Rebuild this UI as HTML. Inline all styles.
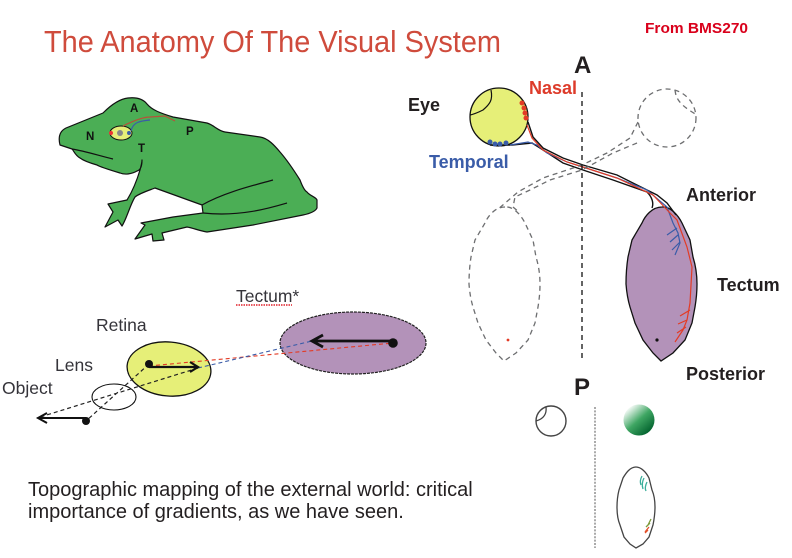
<!DOCTYPE html>
<html><head><meta charset="utf-8"><style>
html,body{margin:0;padding:0;background:#fff}
svg{display:block}
text{font-family:"Liberation Sans",Arial,sans-serif}
.b{font-weight:bold;fill:#231f20;font-size:18px}
.r{fill:#35343a;font-size:17.500px}
</style></head><body>
<svg width="792" height="558" viewBox="0 0 792 558" xmlns="http://www.w3.org/2000/svg">
<defs><linearGradient id="g" x1="0.15" y1="0.1" x2="0.85" y2="0.9"><stop offset="0" stop-color="#fff"/><stop offset=".5" stop-color="#3fa663"/><stop offset="1" stop-color="#00602c"/></linearGradient></defs>
<rect width="792" height="558" fill="#fff"/>
<text x="44" y="52" font-size="31" fill="#cf4b3c" textLength="457" lengthAdjust="spacingAndGlyphs">The Anatomy Of The Visual System</text>
<text x="645" y="33" font-size="15" font-weight="bold" fill="#d9001b" textLength="103" lengthAdjust="spacingAndGlyphs">From BMS270</text>

<!-- frog -->
<path d="M60 145 C58 137 60 131 66 128 L103 113 C108 108 118 99 128 98 C137 97 143 99 147 104 C152 110 160 113 173 117 L207 123 C214 125 218 131 225 132 L260 137 C268 138 275 146 280 152 C287 160 295 172 300 180 C303 188 305 191 307 192 C310 196 316 197 317 200 L317 208 C315 212 308 214 303 215 L253 225 L207 232 C200 231 193 228 187 227 L162 233 L164 240 L153 241 L152 234 L135 239 L145 225 L141 223 L173 217 L203 213 L202 205 L155 188 C150 190 140 193 135 197 C130 205 127 218 122 226 L118 220 L105 227 L113 212 L108 204 L127 200 C132 192 137 180 140 170 C141 166 142 163 142 160 C142 165 141 170 137 171 C132 174 125 175 120 173 C110 170 100 167 97 165 C90 163 84 161 80 158 C75 155 74 151 72 149 L60 145 Z" fill="#4bae55" stroke="#111" stroke-width="1.200" stroke-linejoin="round"/>
<path d="M72 149 C85 151 100 156 113 159 M202 205 C225 192 255 185 273 180 M203 213 C240 217 270 208 287 203" fill="none" stroke="#111" stroke-width="1.200"/>
<ellipse cx="121" cy="133" rx="11" ry="7" fill="#e6ef78" stroke="#111"/>
<circle cx="120" cy="133" r="3" fill="#888"/><circle cx="111" cy="133" r="2" fill="#e33"/><circle cx="129" cy="133" r="2" fill="#3a5ca8"/>
<path d="M123 126 C135 120 145 117 150 117 L165 116 L175 121" fill="none" stroke="#b5533a" stroke-width="1.200"/>
<path d="M131 131 C133 122 140 121 150 120" fill="none" stroke="#3a5ca8" stroke-width="1.200"/>
<g font-size="11.500" font-weight="bold" fill="#111"><text x="86" y="140">N</text><text x="130" y="112">A</text><text x="186" y="135">P</text><text x="138" y="152">T</text></g>

<!-- tectum -->
<path d="M662 207 C652 207 645 216 642 223 L632 240 L628 257 Q626 270 626 284 Q627 297 630 307 L635 323 L643 340 L653 353 L661 361 L673 353 L685 340 L692 323 L695 307 Q697 295 697 284 Q697 270 693 257 L690 240 L682 223 C678 215 670 206 662 207 Z" fill="#b392b9" stroke="#111" stroke-width="1.300"/>
<!-- eye -->
<circle cx="499" cy="117" r="29" fill="#e6ef78" stroke="#111" stroke-width="1.300"/>
<path d="M491 90 C493 100 490 104 483 110 C479 112 475 114 470 115" fill="none" stroke="#111" stroke-width="1.200"/>
<!-- nerve -->
<path d="M528 122 L533 137 L543 148 L563 158 L583 165 L617 175 L657 195 L667 203 L676 215" fill="none" stroke="#111" stroke-width="1.400"/>
<path d="M490 145 L512 145 L532 143 L540 148 L563 163 L583 170 L613 180 L647 192 C652 197 654 203 652 208" fill="none" stroke="#111" stroke-width="1.400"/>
<path d="M510 145 L528 142 L537 145 L547 153 L567 162 L617 178 L647 190 L667 207 L673 223 L678 233 L680 243 L675 255" fill="none" stroke="#3a5ca8" stroke-width="1.200"/>
<path d="M667 235 L677 228 M670 242 L678 235 M672 250 L680 242" fill="none" stroke="#3a5ca8" stroke-width="1.200"/>
<path d="M527 125 L532 138 L543 150 L567 162 L583 167 L617 178 L653 195 L670 213 L677 220 L687 247 L692 267 L690 303 L687 320 L683 330 L675 342" fill="none" stroke="#e33b25" stroke-width="1.200"/>
<path d="M680 316 L690 310 M678 324 L687 320 M677 333 L686 327" fill="none" stroke="#e33b25" stroke-width="1.200"/>
<g fill="#e33b25"><circle cx="522" cy="103" r="2.500"/><circle cx="524" cy="108" r="2.500"/><circle cx="525" cy="113" r="2.500"/><circle cx="526" cy="118" r="2.500"/></g>
<g fill="#3a5ca8"><circle cx="490" cy="142" r="2.500"/><circle cx="495" cy="144" r="2.500"/><circle cx="500" cy="144" r="2.500"/><circle cx="506" cy="143" r="2.500"/></g>
<circle cx="657" cy="340" r="1.600" fill="#111"/>
<!-- dashed mirror -->
<g fill="none" stroke="#6d6e70" stroke-width="1.300" stroke-dasharray="5 4">
<path d="M505 207 C495 207 488 216 485 223 L475 240 L471 257 Q469 270 469 284 Q470 297 473 307 L478 323 L486 340 L496 353 L504 361 L516 353 L528 340 L535 323 L538 307 Q540 295 540 284 Q540 270 536 257 L533 240 L525 223 C521 215 513 206 505 207 Z"/>
<circle cx="667" cy="118" r="29"/>
<path d="M675 90 C676 98 678 104 697 115"/>
<path d="M638 122 L630 138 L607 153 L582 165 L543 178 L518 192 L497 210"/>
<path d="M637 143 L613 153 L582 170 L550 180 L530 190 L515 197 L513 207 L520 213"/>
</g>
<circle cx="508" cy="340" r="1.400" fill="#e33b25"/>
<path d="M582 92 L582 358" stroke="#111" stroke-width="1.300" stroke-dasharray="5 4"/>
<path d="M595 407 L595 548" stroke="#aaa" stroke-width="2" stroke-dasharray="2 1.400"/>

<!-- labels -->
<text x="574" y="73" font-size="24" font-weight="bold" fill="#231f20">A</text>
<text x="574" y="395" font-size="24" font-weight="bold" fill="#231f20">P</text>
<text x="529" y="94" font-size="18" font-weight="bold" fill="#dd3b2a">Nasal</text>
<text class="b" x="408" y="111">Eye</text>
<text x="429" y="168" font-size="18" font-weight="bold" fill="#3a5ca8">Temporal</text>
<text class="b" x="686" y="201">Anterior</text>
<text class="b" x="717" y="291">Tectum</text>
<text class="b" x="686" y="380">Posterior</text>

<!-- lower left -->
<ellipse cx="353" cy="343" rx="73" ry="31" fill="#b392b9" stroke="#222" stroke-width="1.200" stroke-dasharray="3 1"/>
<ellipse cx="169" cy="369" rx="42" ry="27" transform="rotate(5 169 369)" fill="#e6ef78" stroke="#111" stroke-width="1.300"/>
<ellipse cx="114" cy="397" rx="22" ry="13" fill="none" stroke="#111" stroke-width="1.100"/>
<path d="M149 366 L393 343" stroke="#e33b25" stroke-width="1.100" stroke-dasharray="4 3"/>
<path d="M198 368 L312 341" stroke="#3a5ca8" stroke-width="1.100" stroke-dasharray="4 3"/>
<path d="M149 364 L86 421 M198 368 L37 418" stroke="#222" stroke-width="1.200" stroke-dasharray="4 3"/>
<circle cx="149" cy="364" r="4" fill="#111"/>
<circle cx="393" cy="343" r="4.800" fill="#111"/>
<circle cx="86" cy="421" r="4" fill="#111"/>
<path d="M149 367 L197 367 M190 362 L198 367 L190 372" fill="none" stroke="#111" stroke-width="2.200"/>
<path d="M393 341 L313 341 M323 335 L312 341 L323 347" fill="none" stroke="#111" stroke-width="2.800"/>
<path d="M86 418 L38 418 M47 413 L38 418 L47 423" fill="none" stroke="#111" stroke-width="2"/>
<text class="r" x="236" y="302">Tectum*</text>
<path d="M236 305 L292 305" stroke="#e0202a" stroke-width="1.500" stroke-dasharray="1.500 1"/>
<text class="r" x="96" y="331">Retina</text>
<text class="r" x="55" y="371">Lens</text>
<text class="r" x="2" y="394">Object</text>
<text x="28" y="496" font-size="20" fill="#231f20">Topographic mapping of the external world: critical</text>
<text x="28" y="518" font-size="20" fill="#231f20">importance of gradients, as we have seen.</text>

<!-- small -->
<circle cx="551" cy="421" r="15" fill="#fff" stroke="#444" stroke-width="1.400"/>
<path d="M546 407 C547 415 543 419 536 421" fill="none" stroke="#444" stroke-width="1.300"/>
<circle cx="639" cy="420" r="15.500" fill="url(#g)"/>
<path d="M636 467 C630 467 626 473 623 478 L619 490 Q617 498 617 507 Q617 518 620 525 L624 537 L630 544 L636 548 L643 544 L649 537 L653 525 Q655 515 655 507 Q655 497 652 490 L649 478 C646 472 641 467 636 467 Z" fill="#fff" stroke="#444" stroke-width="1.300"/>
<path d="M642 476 C640 480 640 482 641 485 M644 478 C642 482 642 486 643 489 M647 482 C645 486 645 489 646 491" fill="none" stroke="#3bae9a" stroke-width="1.300"/>
<path d="M651 519 L648 525 M650 523 L646 527" fill="none" stroke="#7c9a3a" stroke-width="1.300"/>
<path d="M649 527 L645 532 M648 530 L645 533" fill="none" stroke="#e3502a" stroke-width="1.300"/>
</svg>
</body></html>
